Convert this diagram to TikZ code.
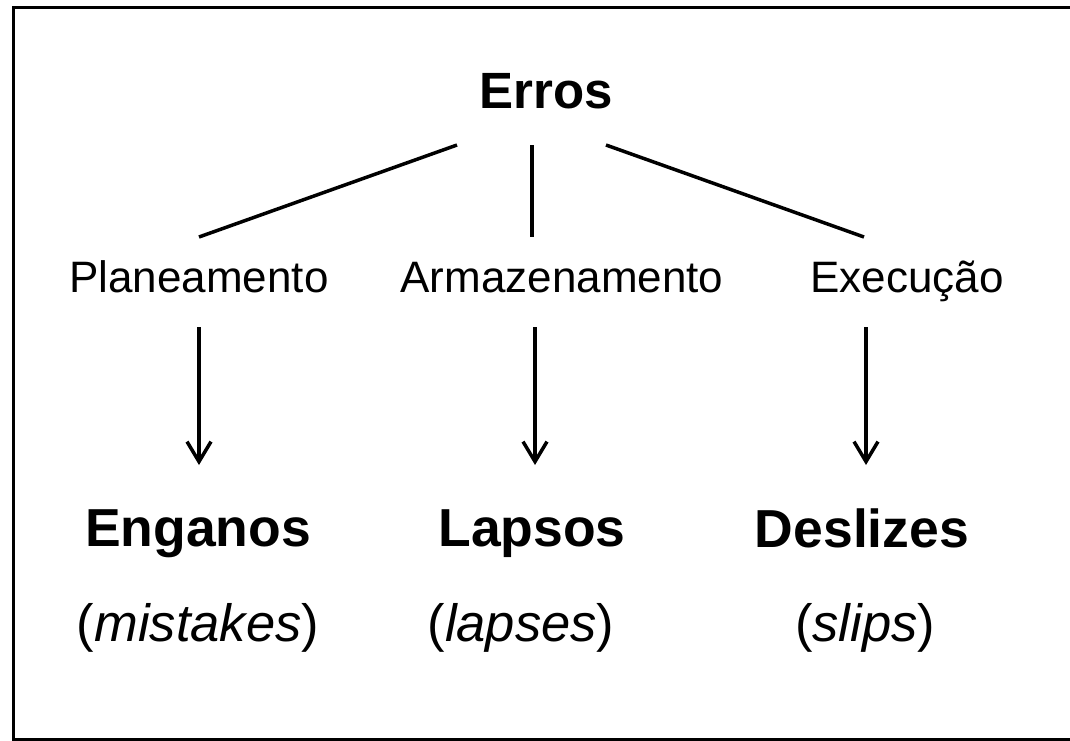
\documentclass[tikz,border=0pt]{standalone}
\usepackage{fontspec}
\setmainfont{Liberation Sans}
\usetikzlibrary{arrows.meta}
\begin{document}
\begin{tikzpicture}[x=1pt,y=-1pt,
  mid/.style={anchor=base,inner sep=0pt,font=\fontsize{44}{50}\selectfont},
  top/.style={anchor=base,inner sep=0pt,font=\fontsize{51}{58}\selectfont\bfseries},
  big/.style={anchor=base,inner sep=0pt,font=\fontsize{53.5}{60}\selectfont\bfseries},
  eng/.style={anchor=base,inner sep=0pt,font=\fontsize{52.5}{60}\selectfont},
  conn/.style={line width=3.5pt},
  arr/.style={line width=3.5pt,-{Straight Barb[length=20pt,width=24pt,line width=3.5pt]}}]
\useasboundingbox (0,0) rectangle (1070,740);
\draw[line width=3pt] (13,7) rectangle (1075,739);
\node[top] (erros) at (546,108) {Erros};
\coordinate (tl) at (457,145);
\coordinate (tc) at (532,145);
\coordinate (tr) at (606,145);
\coordinate (bl) at (199,237);
\coordinate (bc) at (532,237);
\coordinate (br) at (864,237);
\draw[conn] (tl) -- (bl);
\draw[conn] (tc) -- (bc);
\draw[conn] (tr) -- (br);
\node[mid] (plan) at (199,292) {Planeamento};
\node[mid] (arm) at (562,292) {Armazenamento};
\node[mid] (exec) at (907,292) {Execução};
\coordinate (a1s) at (199,327);
\coordinate (a1e) at (199,465);
\coordinate (a2s) at (535,327);
\coordinate (a2e) at (535,465);
\coordinate (a3s) at (866,327);
\coordinate (a3e) at (866,465);
\draw[arr] (a1s) -- (a1e);
\draw[arr] (a2s) -- (a2e);
\draw[arr] (a3s) -- (a3e);
\node[big] (eng) at (198,546) {Enganos};
\node[big] (lap) at (532,546) {Lapsos};
\node[big] (des) at (862,547) {Deslizes};
\node[eng] (mis) at (198,641) {(\textit{mistakes})};
\node[eng] (laps) at (521,641) {(\textit{lapses})};
\node[eng] (sli) at (865,641) {(\textit{slips})};
\end{tikzpicture}
\end{document}
